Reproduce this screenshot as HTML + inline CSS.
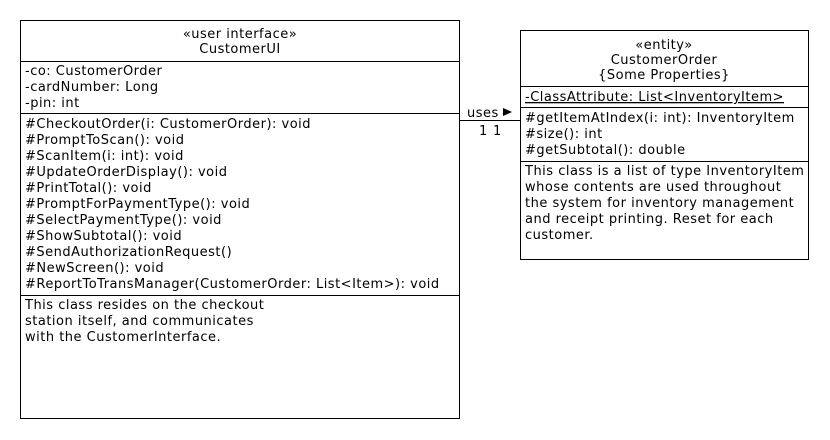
<!DOCTYPE html>
<html><head><meta charset="utf-8"><style>
html,body{margin:0;padding:0;background:#fff;}
svg{display:block;}
text{font-family:"DejaVu Sans","Liberation Sans",sans-serif;font-size:13px;fill:#000;letter-spacing:0.5px;}
</style></head><body>
<svg width="830" height="440" viewBox="0 0 830 440" xmlns="http://www.w3.org/2000/svg">
<g fill="none" stroke="#000" stroke-width="1">
<rect x="20.5" y="20.5" width="439" height="398"/>
<line x1="20" y1="61.5" x2="460" y2="61.5"/>
<line x1="20" y1="113.5" x2="460" y2="113.5"/>
<line x1="20" y1="295.5" x2="460" y2="295.5"/>
<rect x="520.5" y="30.5" width="288" height="229"/>
<line x1="520" y1="86.5" x2="809" y2="86.5"/>
<line x1="520" y1="107.5" x2="809" y2="107.5"/>
<line x1="520" y1="161.5" x2="809" y2="161.5"/>
<line x1="460" y1="120.5" x2="520" y2="120.5"/>
</g>
<text x="240" y="38" text-anchor="middle">«user interface»</text>
<text x="240" y="53" text-anchor="middle">CustomerUI</text>
<text x="25" y="75">-co: CustomerOrder</text>
<text x="25" y="91">-cardNumber: Long</text>
<text x="25" y="107">-pin: int</text>
<text x="25" y="128">#CheckoutOrder(i: CustomerOrder): void</text>
<text x="25" y="144">#PromptToScan(): void</text>
<text x="25" y="160">#ScanItem(i: int): void</text>
<text x="25" y="176">#UpdateOrderDisplay(): void</text>
<text x="25" y="192">#PrintTotal(): void</text>
<text x="25" y="208">#PromptForPaymentType(): void</text>
<text x="25" y="224">#SelectPaymentType(): void</text>
<text x="25" y="240">#ShowSubtotal(): void</text>
<text x="25" y="256">#SendAuthorizationRequest()</text>
<text x="25" y="272">#NewScreen(): void</text>
<text x="25" y="288">#ReportToTransManager(CustomerOrder: List&lt;Item&gt;): void</text>
<text x="25" y="309">This class resides on the checkout</text>
<text x="25" y="325">station itself, and communicates</text>
<text x="25" y="341">with the CustomerInterface.</text>
<text x="664" y="49" text-anchor="middle">«entity»</text>
<text x="664" y="64" text-anchor="middle">CustomerOrder</text>
<text x="664" y="79" text-anchor="middle">{Some Properties}</text>
<text x="525" y="101" text-decoration="underline">-ClassAttribute: List&lt;InventoryItem&gt;</text>
<text x="525" y="122">#getItemAtIndex(i: int): InventoryItem</text>
<text x="525" y="138">#size(): int</text>
<text x="525" y="154">#getSubtotal(): double</text>
<text x="525" y="175">This class is a list of type InventoryItem</text>
<text x="525" y="191">whose contents are used throughout</text>
<text x="525" y="207">the system for inventory management</text>
<text x="525" y="223">and receipt printing. Reset for each</text>
<text x="525" y="239">customer.</text>
<text x="467" y="117">uses</text>
<polygon points="503,108 512,112 503,116" fill="#000"/>
<text x="479" y="135">1</text>
<text x="493" y="135">1</text>
</svg>
</body></html>
